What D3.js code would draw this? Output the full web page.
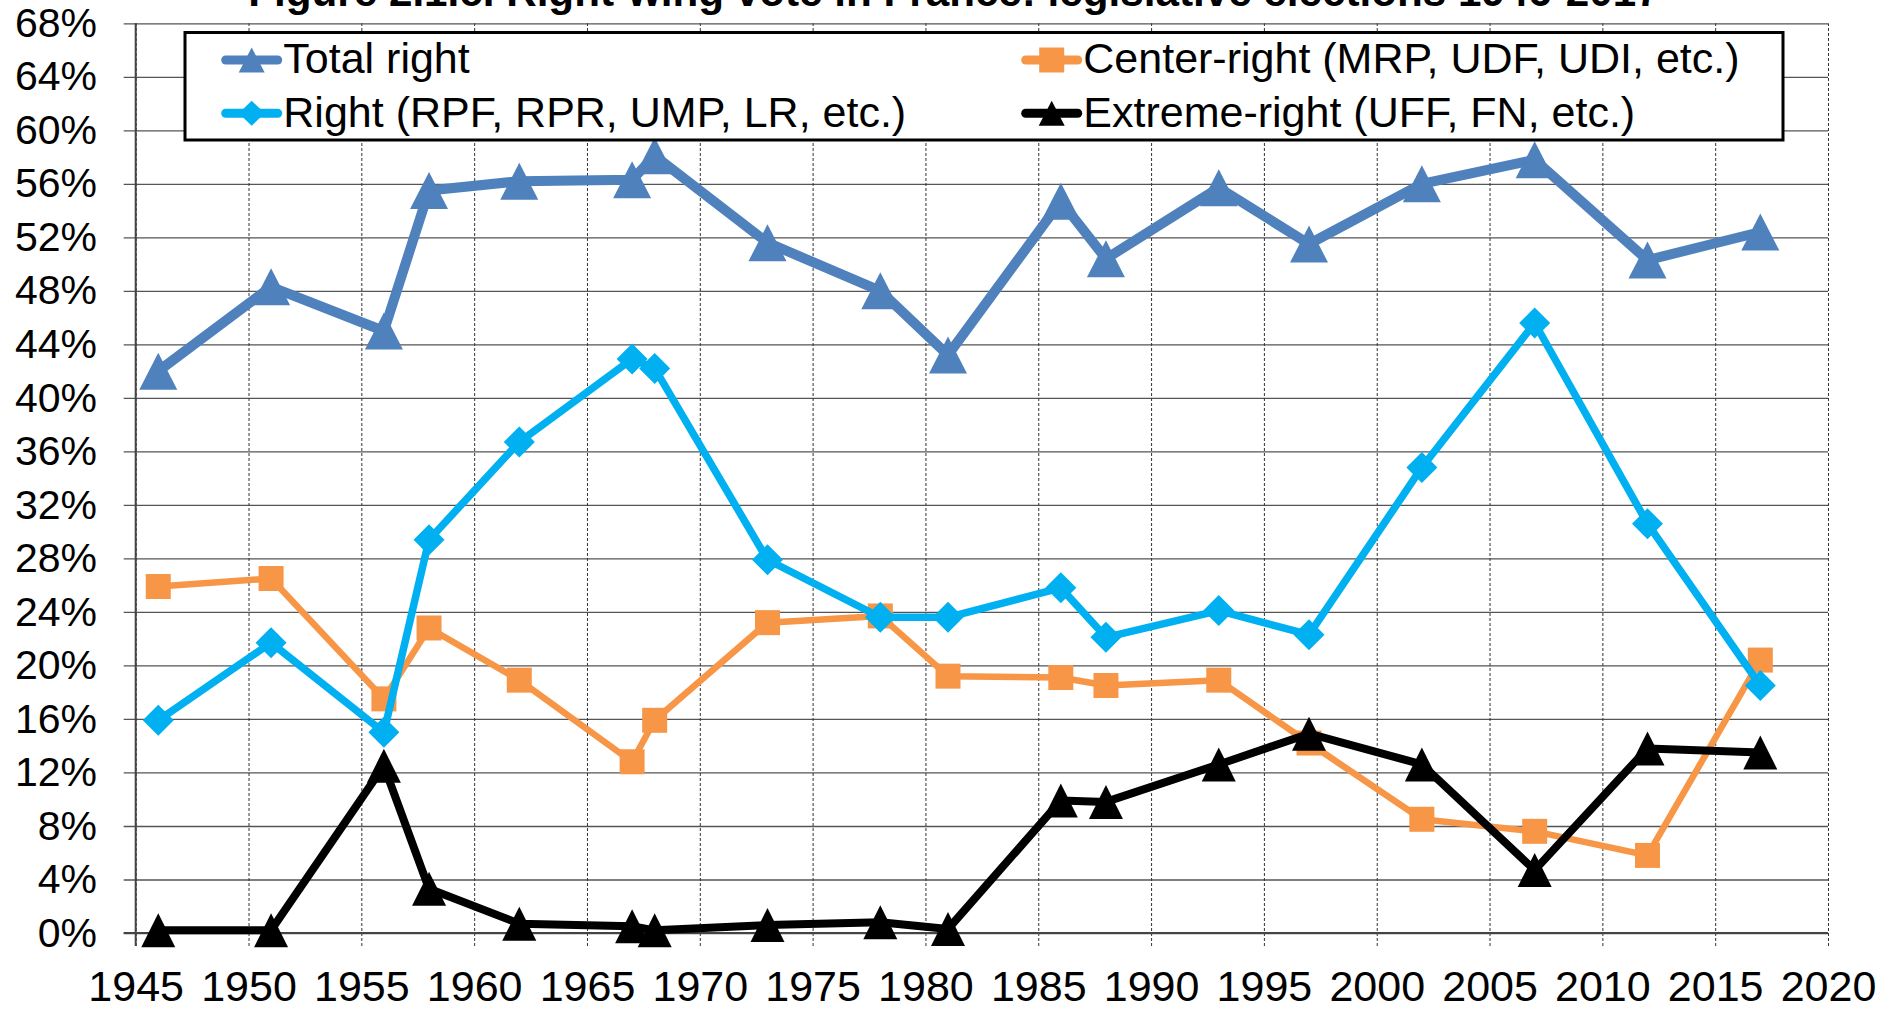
<!DOCTYPE html>
<html>
<head>
<meta charset="utf-8">
<script src="https://cdn.jsdelivr.net/npm/d3@7"></script>
<style>
  body { margin: 0; background: #fff; }
  svg { display: block; font-family: "Liberation Sans", Arial, sans-serif; }
</style>
</head>
<body>
<div id="chart"></div>
<script>
// election years and vote shares (%)
var years = [1946, 1951, 1956, 1958, 1962, 1967, 1968, 1973, 1978, 1981, 1986, 1988, 1993, 1997, 2002, 2007, 2012, 2017]
var totalRight = [42.0, 48.3, 45.0, 55.5, 56.2, 56.3, 58.1, 51.6, 48.0, 43.2, 54.7, 50.4, 55.7, 51.5, 56.0, 57.8, 50.3, 52.4]
var centerRight = [25.9, 26.5, 17.5, 22.8, 18.9, 12.8, 15.9, 23.2, 23.7, 19.2, 19.1, 18.5, 18.9, 14.2, 8.5, 7.6, 5.8, 20.4]
var rightParty = [15.9, 21.7, 15.0, 29.4, 36.7, 42.9, 42.2, 27.9, 23.6, 23.6, 25.8, 22.1, 24.1, 22.3, 34.8, 45.6, 30.6, 18.5]
var extremeRight = [0.2, 0.2, 12.5, 3.3, 0.7, 0.5, 0.2, 0.6, 0.8, 0.3, 9.9, 9.8, 12.6, 14.9, 12.6, 4.7, 13.8, 13.5]

var seriesNames = ["Total right", "Center-right (MRP, UDF, UDI, etc.)", "Right (RPF, RPR, UMP, LR, etc.)", "Extreme-right (UFF, FN, etc.)"]
var xTicks = d3.range(1945, 2021, 5)
var yTicks = d3.range(0, 69, 4)
var title = "Figure 2.1.c. Right-wing vote in France: legislative elections 1946-2017"

var width = 1896, height = 1009
var plot = { left: 135.7, right: 1828, top: 23.3, bottom: 933 }

var svg = d3.select("#chart").append("svg")
    .attr("width", width)
    .attr("height", height)

var x = d3.scaleLinear().domain([1945, 2020]).range([plot.left, plot.right])
var y = d3.scaleLinear().domain([0, 68]).range([plot.bottom, plot.top])

// horizontal gridlines
svg.append("g")
    .attr("transform", "translate(" + (plot.left - 12) + ",0)")
    .call(d3.axisRight(y).tickValues(yTicks).tickSize(plot.right - plot.left + 12).tickFormat(""))
    .call(g => g.select(".domain").remove())
    .call(g => g.selectAll("line").attr("stroke", "#555").attr("stroke-width", 1.3))

// vertical dashed gridlines
svg.append("g")
    .attr("transform", "translate(0," + (plot.bottom + 13) + ")")
    .call(d3.axisTop(x).tickValues(xTicks).tickSize(plot.bottom + 13 - plot.top).tickFormat(""))
    .call(g => g.select(".domain").remove())
    .call(g => g.selectAll("line").attr("stroke", "#333").attr("stroke-width", 1).attr("stroke-dasharray", "3,2"))

// y axis labels
svg.append("g")
    .attr("transform", "translate(" + plot.left + ",0)")
    .call(d3.axisLeft(y).tickValues(yTicks).tickSize(0).tickPadding(38.7).tickFormat(d => d + "%"))
    .call(g => g.select(".domain").remove())
    .call(g => g.selectAll("text").attr("font-size", 41).attr("fill", "#000").attr("font-family", "Liberation Sans, Arial, sans-serif"))

// x axis labels
svg.append("g")
    .attr("transform", "translate(0," + plot.bottom + ")")
    .call(d3.axisBottom(x).tickValues(xTicks).tickSize(0).tickPadding(37).tickFormat(d3.format("d")))
    .call(g => g.select(".domain").remove())
    .call(g => g.selectAll("text").attr("font-size", 43).attr("fill", "#000").attr("font-family", "Liberation Sans, Arial, sans-serif"))

// axis lines
svg.append("line")
    .attr("x1", plot.left).attr("x2", plot.left)
    .attr("y1", plot.top).attr("y2", plot.bottom + 13)
    .attr("stroke", "#444").attr("stroke-width", 2)
svg.append("line")
    .attr("x1", plot.left - 12).attr("x2", plot.right)
    .attr("y1", y(0)).attr("y2", y(0))
    .attr("stroke", "#444").attr("stroke-width", 2.2)

// marker shapes
function triangle(w, h) { return "M0," + (-h / 2) + "L" + (w / 2) + "," + (h / 2) + "L" + (-w / 2) + "," + (h / 2) + "Z" }
function diamond(w, h) { return "M0," + (-h / 2) + "L" + (w / 2) + ",0L0," + (h / 2) + "L" + (-w / 2) + ",0Z" }
function square(s) { return "M" + (-s / 2) + "," + (-s / 2) + "h" + s + "v" + s + "h" + (-s) + "Z" }

var series = [
    { name: seriesNames[0], values: totalRight, color: "#4F81BD", lw: 10, marker: triangle(38, 37), legendMarker: triangle(26, 25) },
    { name: seriesNames[1], values: centerRight, color: "#F79646", lw: 6.5, marker: square(25), legendMarker: square(25) },
    { name: seriesNames[2], values: rightParty, color: "#00B0F0", lw: 7.5, marker: diamond(31, 31), legendMarker: diamond(26, 25) },
    { name: seriesNames[3], values: extremeRight, color: "#000000", lw: 8, marker: triangle(34, 34), legendMarker: triangle(26, 25) }
]

var line = d3.line()
    .x(d => x(d[0]))
    .y(d => y(d[1]))

series.forEach(function (s) {
    var pts = years.map((yr, i) => [yr, s.values[i]])
    var g = svg.append("g")
    g.append("path")
        .attr("d", line(pts))
        .attr("fill", "none")
        .attr("stroke", s.color)
        .attr("stroke-width", s.lw)
        .attr("stroke-linejoin", "round")
    g.selectAll("marker")
        .data(pts)
        .enter()
        .append("path")
        .attr("d", s.marker)
        .attr("transform", d => "translate(" + x(d[0]) + "," + y(d[1]) + ")")
        .attr("fill", s.color)
})

// title (cut off by the top edge as in the original)
svg.append("text")
    .attr("x", 954)
    .attr("y", 6)
    .attr("text-anchor", "middle")
    .attr("font-size", 42.2)
    .attr("font-weight", "bold")
    .text(title)

// legend
var legend = svg.append("g")
legend.append("rect")
    .attr("x", 185).attr("y", 32.5)
    .attr("width", 1598).attr("height", 107.5)
    .attr("fill", "#fff")
    .attr("stroke", "#000")
    .attr("stroke-width", 3)

var legendPos = [[221.7, 60], [1021.7, 60], [221.7, 113.3], [1021.7, 113.3]]
series.forEach(function (s, i) {
    var lx = legendPos[i][0], ly = legendPos[i][1]
    legend.append("line")
        .attr("x1", lx + 4).attr("x2", lx + 56)
        .attr("y1", ly).attr("y2", ly)
        .attr("stroke", s.color)
        .attr("stroke-width", 9)
        .attr("stroke-linecap", "round")
    legend.append("path")
        .attr("d", s.legendMarker)
        .attr("transform", "translate(" + (lx + 30) + "," + ly + ")")
        .attr("fill", s.color)
    legend.append("text")
        .attr("x", lx + 61.6)
        .attr("y", ly + 13.3)
        .attr("font-size", 43)
        .text(s.name)
})
</script>
</body>
</html>
